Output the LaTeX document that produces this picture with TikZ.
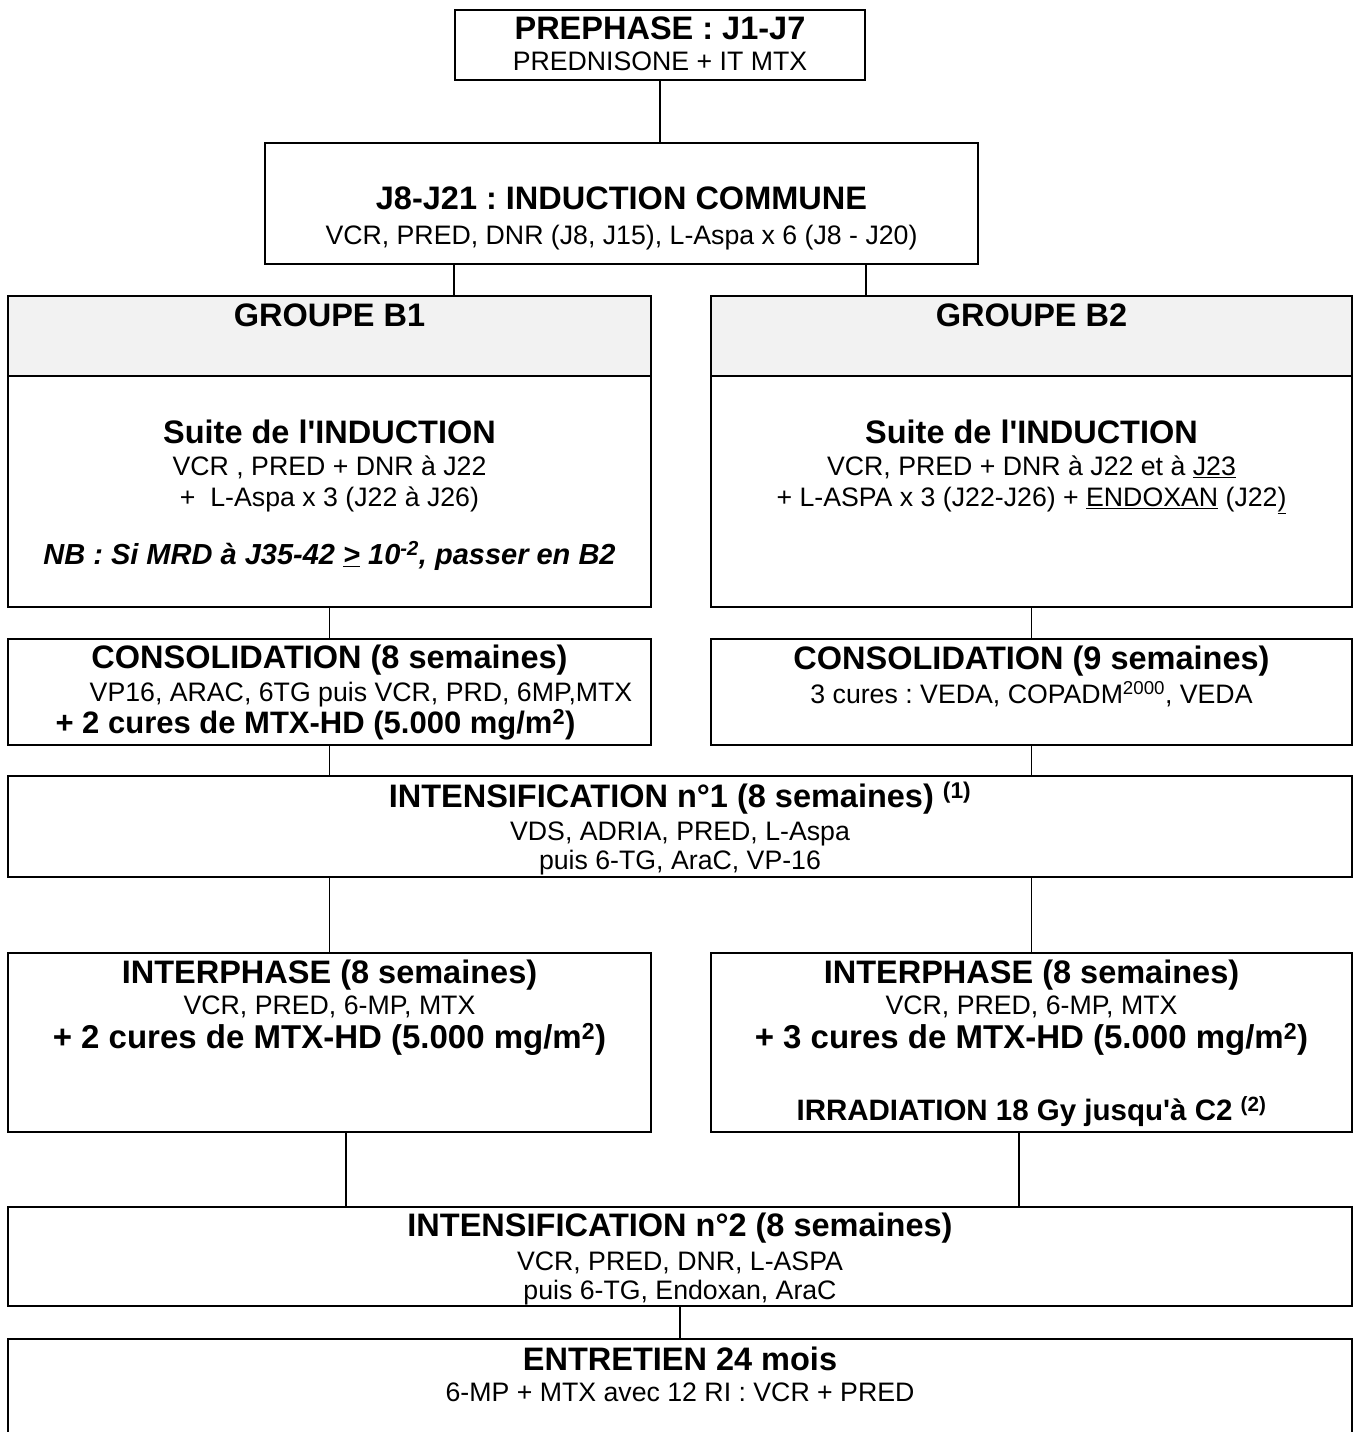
\documentclass[tikz,border=0pt]{standalone}
\usepackage{fontspec}
\setmainfont{Liberation Sans}
\usetikzlibrary{positioning}

\definecolor{headgray}{HTML}{F2F2F2}
\newcommand{\headfont}{\fontsize{32.5}{30}\selectfont\bfseries}
\newcommand{\curesfont}{\fontsize{33}{30}\selectfont\bfseries}
\newcommand{\expo}[1]{\smash{\textsuperscript{#1}}}
\frenchspacing

\begin{document}
\begin{tikzpicture}[x=1pt, y=-1pt,
    box/.style={draw, line width=2pt, inner sep=0pt, minimum width=#1},
    txt/.style={align=center, inner sep=0pt, anchor=north, font=\fontsize{26.7}{30}\selectfont},
    link/.style={line width=1.8pt}]
    \useasboundingbox (0,0) rectangle (1354,1432);
    \clip (0,0) rectangle (1354,1432);

    % Nodes
    \node[box=410pt, minimum height=70pt] (prephase) at (660,45) {};
    \node[txt, below=8pt of prephase.north] (prephase text) {{\headfont PREPHASE : J1-J7}\\[1pt] PREDNISONE + IT MTX};

    \node[box=713pt, minimum height=121pt] (induction) at (621.5,203.5) {};
    \node[txt, below=45pt of induction.north] (induction text) {{\headfont J8-J21 : INDUCTION COMMUNE}\\[5pt] VCR, PRED, DNR (J8, J15), L-Aspa x 6 (J8 - J20)};

    \node[box=643pt, minimum height=80pt, fill=headgray] (b1 head) at (329.5,336) {};
    \node[box=643pt, minimum height=231pt] (b1 body) at (329.5,491.5) {};
    \node[txt, below=9pt of b1 head.north] (b1 title) {\headfont GROUPE B1};
    \node[txt, below=45pt of b1 body.north] (b1 text) {{\headfont Suite de l\textquotesingle INDUCTION}\\[2pt] VCR , PRED + DNR à J22\\[1pt] +\ \ L-Aspa x 3 (J22 à J26)\\[28pt] {\fontsize{29}{30}\selectfont\bfseries\itshape NB : Si MRD à J35-42 \underline{>} 10\expo{-2}, passer en B2}};

    \node[box=641pt, minimum height=80pt, fill=headgray] (b2 head) at (1031.5,336) {};
    \node[box=641pt, minimum height=231pt] (b2 body) at (1031.5,491.5) {};
    \node[txt, below=9pt of b2 head.north] (b2 title) {\headfont GROUPE B2};
    \node[txt, below=45pt of b2 body.north] (b2 text) {{\headfont Suite de l\textquotesingle INDUCTION}\\[2pt] VCR, PRED + DNR à J22 et à \underline{J23}\\[1pt] + L-ASPA x 3 (J22-J26) + \underline{ENDOXAN} (J22\underline{)}};

    \node[box=643pt, minimum height=106pt] (consol b1) at (329.5,692) {};
    \node[txt, below=7pt of consol b1.north] (consol b1 text) {{\headfont CONSOLIDATION (8 semaines)}\\[3pt] \hspace*{63pt}VP16, ARAC, 6TG puis VCR, PRD, 6MP,MTX\\[2pt] {\fontsize{31}{30}\selectfont\bfseries + 2 cures de MTX-HD (5.000 mg/m\expo{2})\hspace*{28pt}}};

    \node[box=641pt, minimum height=106pt] (consol b2) at (1031.5,692) {};
    \node[txt, below=8pt of consol b2.north] (consol b2 text) {{\headfont CONSOLIDATION (9 semaines)}\\[4pt] 3 cures : VEDA, COPADM\expo{2000}, VEDA};

    \node[box=1344pt, minimum height=101pt] (intens1) at (680,826.5) {};
    \node[txt, below=9pt of intens1.north] (intens1 text) {{\headfont INTENSIFICATION n°1 (8 semaines)\ \expo{(1)}}\\[3pt] VDS, ADRIA, PRED, L-Aspa\\[-1pt] puis 6-TG, AraC, VP-16};

    \node[box=643pt, minimum height=179pt] (interphase b1) at (329.5,1042.5) {};
    \node[txt, below=8pt of interphase b1.north] (interphase b1 text) {{\headfont INTERPHASE (8 semaines)}\\[1pt] VCR, PRED, 6-MP, MTX\\[4pt] {\curesfont + 2 cures de MTX-HD (5.000 mg/m\expo{2})}};

    \node[box=641pt, minimum height=179pt] (interphase b2) at (1031.5,1042.5) {};
    \node[txt, below=8pt of interphase b2.north] (interphase b2 text) {{\headfont INTERPHASE (8 semaines)}\\[1pt] VCR, PRED, 6-MP, MTX\\[4pt] {\curesfont + 3 cures de MTX-HD (5.000 mg/m\expo{2})}\\[42pt] {\fontsize{29.5}{30}\selectfont\bfseries IRRADIATION 18 Gy jusqu\textquotesingle à C2 \expo{(2)}}};

    \node[box=1344pt, minimum height=99pt] (intens2) at (680,1256.5) {};
    \node[txt, below=7pt of intens2.north] (intens2 text) {{\headfont INTENSIFICATION n°2 (8 semaines)}\\[4pt] VCR, PRED, DNR, L-ASPA\\[-1pt] puis 6-TG, Endoxan, AraC};

    \node[box=1344pt, minimum height=131pt] (entretien) at (680,1404.5) {};
    \node[txt, below=9pt of entretien.north] (entretien text) {{\headfont ENTRETIEN 24 mois}\\[1pt] 6-MP + MTX avec 12 RI : VCR + PRED};

    % Connections
    \draw[link] (prephase.south) -- (prephase.south |- induction.north);
    \draw[link] (prephase.south west |- induction.south) -- (prephase.south west |- b1 head.north);
    \draw[link] (prephase.south east |- induction.south) -- (prephase.south east |- b2 head.north);
    \draw[link] (b1 body.south) -- (consol b1.north);
    \draw[link] (b2 body.south) -- (consol b2.north);
    \draw[link] (consol b1.south) -- (consol b1.south |- intens1.north);
    \draw[link] (consol b2.south) -- (consol b2.south |- intens1.north);
    \draw[link] (interphase b1.north |- intens1.south) -- (interphase b1.north);
    \draw[link] (interphase b2.north |- intens1.south) -- (interphase b2.north);
    \draw[link] ([xshift=16.5pt]interphase b1.south) -- ([xshift=16.5pt]interphase b1.south |- intens2.north);
    \draw[link] ([xshift=-12.5pt]interphase b2.south) -- ([xshift=-12.5pt]interphase b2.south |- intens2.north);
    \draw[link] (intens2.south) -- (entretien.north);
\end{tikzpicture}
\end{document}
